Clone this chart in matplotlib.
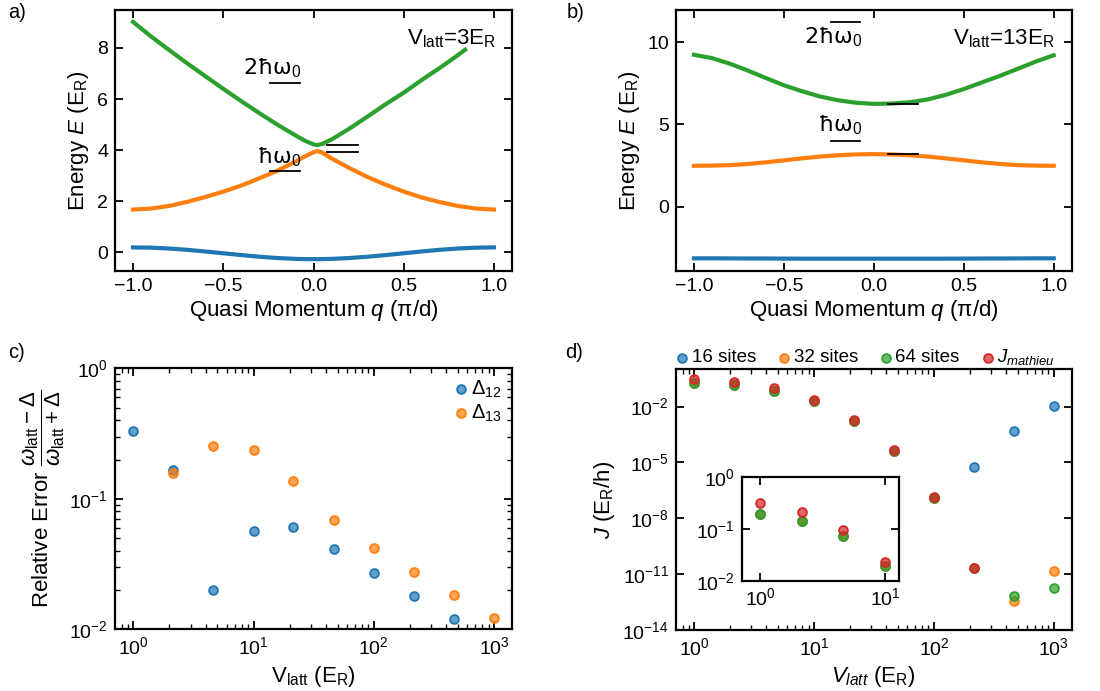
import numpy as np
import matplotlib
matplotlib.use('Agg')
import matplotlib.pyplot as plt
from matplotlib.colors import to_rgba
from matplotlib.ticker import NullLocator

plt.rcParams['font.family'] = ['Liberation Sans', 'DejaVu Sans']
plt.rcParams['mathtext.fontset'] = 'custom'
plt.rcParams['mathtext.rm'] = 'Liberation Sans'
plt.rcParams['mathtext.it'] = 'Liberation Sans:italic'
plt.rcParams['mathtext.bf'] = 'Liberation Sans:bold'
plt.rcParams['mathtext.sf'] = 'Liberation Sans'

C0, C1, C2, C3 = '#1f77b4', '#ff7f0e', '#2ca02c', '#d62728'

# ---------------- panel a: V = 3 E_R ----------------
q_a = [-1.0, -0.9, -0.8, -0.7, -0.6, -0.5, -0.4, -0.3, -0.2, -0.1, -0.05, 0.0, 0.02,
       0.05, 0.1, 0.2, 0.3, 0.4, 0.5, 0.6, 0.7, 0.8, 0.9, 1.0]
band1_a = [0.20, 0.19, 0.156, 0.105, 0.041, -0.03, -0.101, -0.165, -0.216, -0.249, -0.257,
           -0.26, -0.26, -0.257, -0.249, -0.216, -0.165, -0.101, -0.03, 0.041, 0.105, 0.156,
           0.189, 0.20]
band2_a = [1.68, 1.72, 1.82, 1.98, 2.17, 2.38, 2.62, 2.90, 3.20, 3.55, 3.75, 3.92, 3.97,
           3.90, 3.68, 3.30, 2.95, 2.65, 2.38, 2.15, 1.97, 1.82, 1.72, 1.68]
q3_a = [-1.0, -0.9, -0.8, -0.7, -0.6, -0.5, -0.4, -0.3, -0.2, -0.1, -0.05, 0.0, 0.02,
        0.05, 0.1, 0.2, 0.3, 0.4, 0.5, 0.6, 0.7, 0.8, 0.84]
band3_a = [9.02, 8.45, 7.92, 7.40, 6.90, 6.40, 5.92, 5.45, 5.00, 4.58, 4.38, 4.23, 4.20,
           4.25, 4.42, 4.85, 5.32, 5.80, 6.25, 6.75, 7.22, 7.72, 7.93]
harm_E_a = [3.2, 6.63]        # hbar*omega_0 and 2 hbar*omega_0
band_E_a = [3.95, 4.2]        # band energies at q=0
harm_q = [-0.24, -0.075]
band_q = [0.076, 0.244]

# ---------------- panel b: V = 13 E_R ----------------
q_b = [-1.0, -0.9, -0.8, -0.7, -0.6, -0.5, -0.4, -0.3, -0.2, -0.1, 0.0,
       0.1, 0.2, 0.3, 0.4, 0.5, 0.6, 0.7, 0.8, 0.9, 1.0]
band1_b = [-3.13, -3.13, -3.135, -3.14, -3.14, -3.145, -3.15, -3.15, -3.15, -3.15, -3.15,
           -3.15, -3.15, -3.15, -3.15, -3.145, -3.14, -3.14, -3.135, -3.13, -3.13]
band2_b = [2.49, 2.50, 2.53, 2.60, 2.70, 2.82, 2.94, 3.05, 3.13, 3.18, 3.20,
           3.18, 3.13, 3.05, 2.94, 2.82, 2.70, 2.60, 2.53, 2.50, 2.49]
band3_b = [9.23, 9.03, 8.69, 8.27, 7.82, 7.38, 7.02, 6.70, 6.47, 6.32, 6.25,
           6.27, 6.35, 6.52, 6.80, 7.15, 7.55, 7.95, 8.38, 8.82, 9.20]
harm_E_b = [4.0, 11.23]
band_E_b = [3.18, 6.26]

# ---------------- panel c ----------------
V_c = [1, 2.15, 4.64, 10, 21.5, 46.4, 100, 215, 464, 1000]
d12 = [0.333, 0.167, 0.0199, 0.0562, 0.0604, 0.0412, 0.027, 0.0179, 0.012, np.nan]
d13 = [np.nan, 0.158, 0.256, 0.237, 0.137, 0.0687, 0.0422, 0.0276, 0.0183, 0.0123]

# ---------------- panel d ----------------
V_d = [1, 2.15, 4.64, 10, 21.5, 46.4, 100, 215, 464, 1000]
J16 = [0.191, 0.138, 0.071, 0.019, 1.7e-3, 4.2e-5, 1.3e-7, 5.6e-6, 4.8e-4, 1.04e-2]
J32 = [0.191, 0.138, 0.071, 0.019, 1.7e-3, 4.2e-5, 1.3e-7, 2.1e-11, 3.5e-13, 1.5e-11]
J64 = [0.191, 0.138, 0.071, 0.019, 1.7e-3, 4.2e-5, 1.3e-7, 2.1e-11, 6.9e-13, 1.7e-12]
Jmath = [0.307, 0.209, 0.0957, 0.0229, 1.93e-3, 4.6e-5, 1.39e-7, 2.1e-11, np.nan, np.nan]
n_inset = 4

TICK = 14
LAB = 16

fig = plt.figure(figsize=(11, 6.91), dpi=100)


def style(ax):
    for s in ax.spines.values():
        s.set_linewidth(1.6)
    ax.tick_params(which='major', direction='in', top=True, right=True,
                   length=6, width=1.3, labelsize=TICK, pad=5)
    ax.tick_params(which='minor', direction='in', top=True, right=True,
                   length=3.5, width=1.0)


def dots(ax, x, y, c, label=None, s=40):
    return ax.scatter(x, y, s=s, facecolor=to_rgba(c, 0.7), edgecolor=c,
                      linewidths=1.3, label=label, zorder=3)


# ---- a ----
axa = fig.add_axes([0.1045, 0.6078, 0.361, 0.3777])
axa.plot(q_a, band1_a, color=C0, lw=3)
axa.plot(q_a, band2_a, color=C1, lw=3)
axa.plot(q3_a, band3_a, color=C2, lw=3)
for e in harm_E_a:
    axa.plot(harm_q, [e, e], color='k', lw=1.3)
for e in band_E_a:
    axa.plot(band_q, [e, e], color='k', lw=1.3)
axa.text(-0.065, 6.95, '2ħω$_0$', ha='right', va='baseline', fontsize=LAB,
         family=['DejaVu Sans'])
axa.text(-0.065, 3.49, 'ħω$_0$', ha='right', va='baseline', fontsize=LAB,
         family=['DejaVu Sans'])
axa.text(1.015, 8.15, r'V$_{\rm latt}$=3E$_{\rm R}$', ha='right', va='baseline',
         fontsize=LAB)
axa.set_xlabel(r'Quasi Momentum $q$ (π/d)', fontsize=LAB, labelpad=2)
axa.set_ylabel(r'Energy $E$ (E$_{\rm R}$)', fontsize=LAB)
axa.set_xticks([-1.0, -0.5, 0.0, 0.5, 1.0])
style(axa)

# ---- b ----
axb = fig.add_axes([0.6145, 0.6078, 0.3598, 0.3777])
axb.plot(q_b, band1_b, color=C0, lw=3)
axb.plot(q_b, band2_b, color=C1, lw=3)
axb.plot(q_b, band3_b, color=C2, lw=3)
for e in harm_E_b:
    axb.plot(harm_q, [e, e], color='k', lw=1.3)
for e in band_E_b:
    axb.plot(band_q, [e, e], color='k', lw=1.3)
axb.text(-0.065, 9.92, '2ħω$_0$', ha='right', va='baseline', fontsize=LAB,
         family=['DejaVu Sans'])
axb.text(-0.065, 4.55, 'ħω$_0$', ha='right', va='baseline', fontsize=LAB,
         family=['DejaVu Sans'])
axb.text(1.004, 9.86, r'V$_{\rm latt}$=13E$_{\rm R}$', ha='right', va='baseline',
         fontsize=LAB)
axb.set_ylim(-3.9, 11.95)
axb.set_xlabel(r'Quasi Momentum $q$ (π/d)', fontsize=LAB, labelpad=2)
axb.set_ylabel(r'Energy $E$ (E$_{\rm R}$)', fontsize=LAB)
axb.set_xticks([-1.0, -0.5, 0.0, 0.5, 1.0])
style(axb)

# ---- c ----
axc = fig.add_axes([0.1045, 0.0893, 0.361, 0.3777])
dots(axc, V_c, d12, C0, r'$\Delta_{12}$')
dots(axc, V_c, d13, C1, r'$\Delta_{13}$')
axc.set_xscale('log')
axc.set_yscale('log')
axc.set_xlim(0.705, 1410)
axc.set_ylim(0.01, 1)
axc.set_xlabel(r'V$_{\rm latt}$ (E$_{\rm R}$)', fontsize=LAB)
axc.set_ylabel(r'Relative Error $\dfrac{\omega_{\rm latt}-\Delta}{\omega_{\rm latt}+\Delta}$',
               fontsize=LAB, labelpad=2)
style(axc)
axc.legend(loc='upper right', frameon=False, fontsize=14.5, handletextpad=0.0,
           handlelength=1.0, labelspacing=0.15, borderaxespad=0.3, borderpad=0.2)

# ---- d ----
axd = fig.add_axes([0.6145, 0.0883, 0.3598, 0.3772])
h16 = dots(axd, V_d, J16, C0, '16 sites')
h32 = dots(axd, V_d, J32, C1, '32 sites')
h64 = dots(axd, V_d, J64, C2, '64 sites')
hm = dots(axd, V_d, Jmath, C3, r'$J_{mathieu}$')
axd.set_xscale('log')
axd.set_yscale('log')
axd.set_xlim(0.705, 1410)
axd.set_ylim(1e-14, 1)
axd.set_yticks([1e-14, 1e-11, 1e-8, 1e-5, 1e-2])
axd.yaxis.set_minor_locator(NullLocator())
axd.set_xlabel(r'$V_{latt}$ (E$_{\rm R}$)', fontsize=LAB)
axd.set_ylabel(r'$J$ (E$_{\rm R}$/h)', fontsize=LAB)
style(axd)
axd.legend(handles=[h16, h32, h64, hm], loc='lower left', bbox_to_anchor=(-0.012, 1.0),
           ncol=4, frameon=False, fontsize=13.5, handletextpad=0.0, handlelength=1.0,
           columnspacing=1.0, borderaxespad=0.0, borderpad=0.1)

# ---- inset ----
axi = fig.add_axes([0.6743, 0.1596, 0.1433, 0.1505])
dots(axi, V_d[:n_inset], J16[:n_inset], C0)
dots(axi, V_d[:n_inset], J32[:n_inset], C1)
dots(axi, V_d[:n_inset], J64[:n_inset], C2)
dots(axi, V_d[:n_inset], Jmath[:n_inset], C3)
axi.set_xscale('log')
axi.set_yscale('log')
axi.set_xlim(0.713, 13.0)
axi.set_ylim(0.01, 1)
axi.xaxis.set_minor_locator(NullLocator())
axi.yaxis.set_minor_locator(NullLocator())
style(axi)

# panel letters
fig.text(0.007, 0.995, 'a)', fontsize=14.5, va='top', ha='left')
fig.text(0.515, 0.995, 'b)', fontsize=14.5, va='top', ha='left')
fig.text(0.007, 0.503, 'c)', fontsize=14.5, va='top', ha='left')
fig.text(0.514, 0.503, 'd)', fontsize=14.5, va='top', ha='left')

fig.savefig('out.png', dpi=100)
